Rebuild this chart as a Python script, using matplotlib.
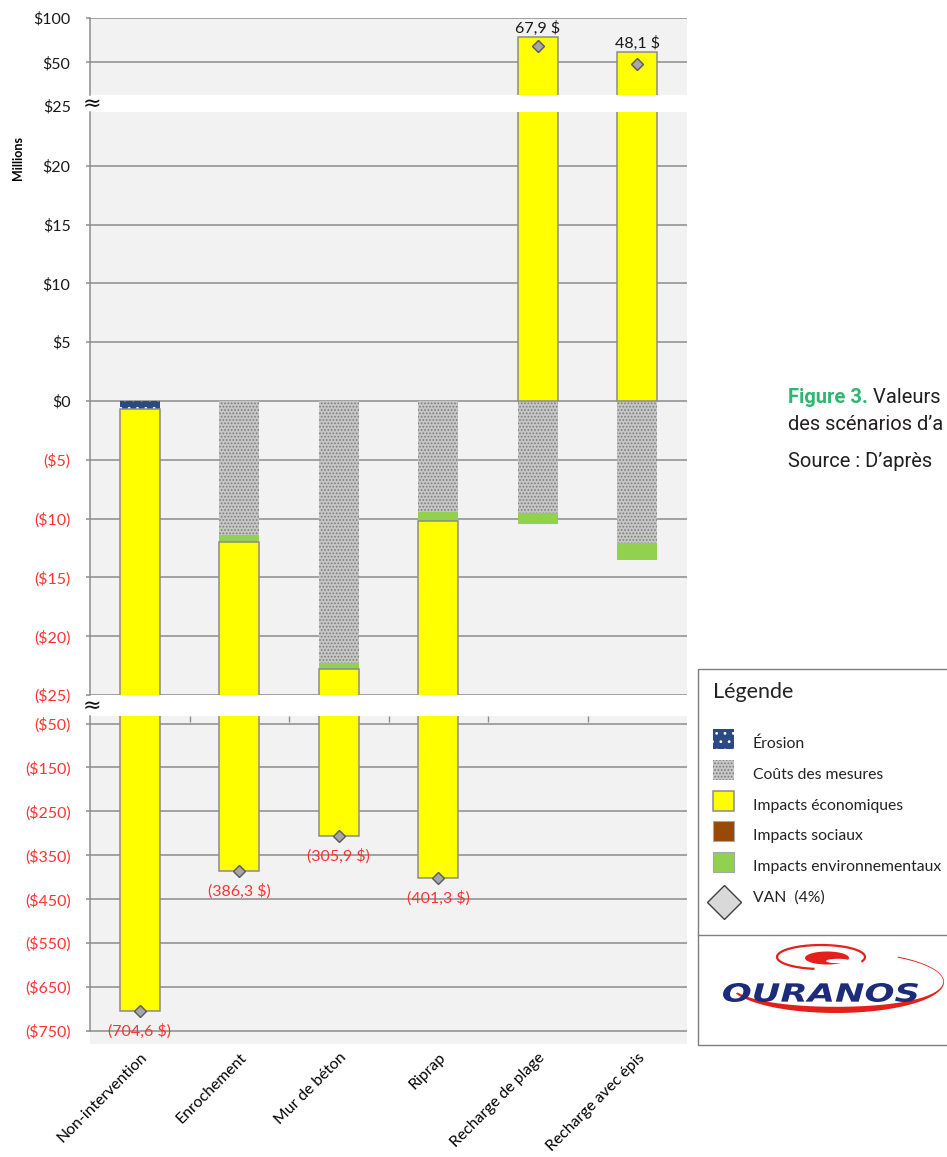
import matplotlib
matplotlib.use('Agg')
import matplotlib.pyplot as plt
import numpy as np
from matplotlib.patches import Rectangle, PathPatch, Polygon
from matplotlib.textpath import TextPath
from matplotlib.font_manager import FontProperties
from matplotlib.transforms import Affine2D, blended_transform_factory, offset_copy

plt.rcParams['font.family'] = ['Lato', 'DejaVu Sans']
plt.rcParams['hatch.linewidth'] = 0.8

# data (millions $)
categories = ['Non-intervention', 'Enrochement', 'Mur de béton', 'Riprap',
              'Recharge de plage', 'Recharge avec épis']
erosion = [-0.7, 0, 0, 0, 0, 0]
couts = [0, -11.4, -22.3, -9.4, -9.5, -12.1]
sociaux = [0, 0, 0, 0, 0, 0]
env = [0, -0.6, -0.5, -0.8, -1.0, -1.4]
eco = [-703.9, -374.3, -283.1, -391.1, 78.4, 61.6]
van = [-704.6, -386.3, -305.9, -401.3, 67.9, 48.1]
van_labels = ['(704,6 $)', '(386,3 $)', '(305,9 $)', '(401,3 $)', '67,9 $', '48,1 $']

top_ticks = [50, 100]
mid_ticks = [20, 15, 10, 5, 0, -5, -10, -15, -20, -25]
bot_ticks = [-50, -150, -250, -350, -450, -550, -650, -750]

GRID = '#8c8c8c'
RED = '#ff3333'

styles = {
    'Érosion': dict(facecolor='#2a4a80', edgecolor='white', hatch='..', linewidth=0),
    'Coûts des mesures': dict(facecolor='#c6c6c6', edgecolor='#7c7c7c', hatch='.....', linewidth=0),
    'Impacts économiques': dict(facecolor='#ffff00', edgecolor=GRID, linewidth=1.1),
    'Impacts sociaux': dict(facecolor='#984807', linewidth=0),
    'Impacts environnementaux': dict(facecolor='#92d050', linewidth=0),
}
stack = [('Érosion', erosion), ('Coûts des mesures', couts), ('Impacts sociaux', sociaux),
         ('Impacts environnementaux', env), ('Impacts économiques', eco)]

W, H = 947, 1157
fig = plt.figure(figsize=(W / 100, H / 100), dpi=100)


def box(x0, y0, x1, y1):
    return [x0 / W, 1 - y1 / H, (x1 - x0) / W, (y1 - y0) / H]


ax_top = fig.add_axes(box(90, 18, 687, 95))
ax_mid = fig.add_axes(box(90, 112, 687, 695))
ax_bot = fig.add_axes(box(90, 716, 687, 1044))
axes = [ax_top, ax_mid, ax_bot]

x = np.arange(len(categories))
pos_total = np.zeros(len(categories))
for ax in axes:
    pos = np.zeros(len(categories))
    neg = np.zeros(len(categories))
    for name, vals in stack:
        v = np.array(vals, float)
        bottom = np.where(v >= 0, pos, neg)
        ax.bar(x, v, 0.4, bottom=bottom, zorder=2, **styles[name])
        pos += np.clip(v, 0, None)
        neg += np.clip(v, None, 0)
    pos_total = pos
    ax.plot(x, van, ls='none', marker='D', ms=6, mfc='#a6a6a6', mec='#595959', mew=1.0, zorder=4)

    ax.set_facecolor('#f2f2f2')
    ax.set_xlim(-0.5, 5.5)
    for s in ['top', 'right', 'bottom']:
        ax.spines[s].set_visible(False)
    ax.spines['left'].set_color(GRID)
    ax.spines['left'].set_linewidth(1.1)
    ax.yaxis.grid(True, color=GRID, lw=1.1)
    ax.set_axisbelow(True)
    ax.tick_params(axis='y', length=3, width=1.1, color=GRID, pad=11, labelsize=11.5)
    ax.tick_params(axis='x', which='both', bottom=False, labelbottom=False)


def money(v):
    return '${:g}'.format(v) if v >= 0 else '(${:g})'.format(-v)


for ax, ticks, lim in [(ax_top, top_ticks, (13.1, 100)), (ax_mid, mid_ticks, (-25, 24.58)),
                       (ax_bot, bot_ticks, (-780, -32.9))]:
    ax.set_ylim(*lim)
    ax.set_yticks(ticks, labels=[money(t) for t in ticks])
    for lbl, t in zip(ax.get_yticklabels(), ticks):
        lbl.set_color(RED if t < 0 else '#1a1a1a')

ax_bot.spines['left'].set_bounds(-750, -32.9)
ax_mid.text(-19 / 597, 25, money(25), transform=blended_transform_factory(ax_mid.transAxes, ax_mid.transData),
            ha='right', va='center', fontsize=11.5, color='#1a1a1a')

# category labels and boundary ticks
ax_bot.set_xticks(x, labels=categories, rotation=45, ha='right', va='center', rotation_mode='anchor')
ax_bot.set_xticks(np.arange(0.5, 5, 1), minor=True)
ax_bot.tick_params(axis='x', which='major', bottom=True, length=0, pad=8, labelbottom=True, labelsize=11.3)
ax_bot.tick_params(axis='x', which='minor', top=True, bottom=False, direction='in', length=4, width=1, color=GRID)
for lbl in ax_bot.get_xticklabels():
    lbl.set_transform(offset_copy(lbl.get_transform(), fig=fig, x=5, y=0, units='dots'))

# VAN labels
for i, v in enumerate(van):
    if v < -25:
        ax_bot.annotate(van_labels[i], (i, v), xytext=(0, -20), textcoords='offset pixels',
                        ha='center', va='center', color=RED, fontsize=11.5, annotation_clip=False)
    elif v > 24.58:
        ax_top.annotate(van_labels[i], (i, pos_total[i]), xytext=(0, 1), textcoords='offset pixels',
                        ha='center', va='bottom', color='#1a1a1a', fontsize=11.5, annotation_clip=False)

# overlay in pixel coordinates
ov = fig.add_axes([0, 0, 1, 1], zorder=10)
ov.set_xlim(0, W)
ov.set_ylim(H, 0)
ov.axis('off')
ov.patch.set_alpha(0)

for yb in [104, 706]:
    ov.text(92, yb, '≈', ha='center', va='center', fontsize=16, color='#111111', family='DejaVu Sans')
ov.text(18, 158, 'Millions', rotation=90, ha='center', va='center', fontsize=9, fontweight='bold')

# caption on the right
t1 = ov.text(788, 403, 'Figure 3.', fontsize=14.5, fontweight='bold', color='#2fb673',
             family='Roboto', va='baseline')
ov.annotate(' Valeurs', xy=(1, 0), xycoords=t1, va='bottom', ha='left', fontsize=14.5,
            color='#231f20', family='Roboto')
ov.text(788, 430, 'des scénarios d’a', fontsize=14.5, color='#231f20', family='Roboto', va='baseline')
ov.text(788, 467, 'Source : D’après', fontsize=14.5, color='#231f20', family='Roboto', va='baseline')

# legend box
ov.add_patch(Rectangle((698, 669), 300, 376, facecolor='white', edgecolor='#7f7f7f', lw=1, zorder=1))
ov.plot([698, 947], [935, 935], color='#7f7f7f', lw=1, zorder=2)
ov.text(713, 692, 'Légende', fontsize=15.5, va='center', ha='left', color='#222222', zorder=3)
legend_rows = [('Érosion', 739), ('Coûts des mesures', 770), ('Impacts économiques', 801),
               ('Impacts sociaux', 831), ('Impacts environnementaux', 862)]
for name, cy in legend_rows:
    st = dict(styles[name])
    if name in ('Impacts environnementaux', 'Impacts sociaux'):
        st.update(edgecolor='#a6a6a6', linewidth=0.8)
    ov.add_patch(Rectangle((713, cy - 10), 21, 20, zorder=3, **st))
    ov.text(753, cy + 5, name, fontsize=11.3, va='center', ha='left', color='#222222', zorder=3)
ov.plot(724, 902, marker='D', ms=17, mfc='#d9d9d9', mec='#404040', mew=1.0, zorder=3)
ov.text(753, 898, 'VAN  (4%)', fontsize=11.3, va='center', ha='left', color='#222222', zorder=3)

# Ouranos logo
logo_red = '#e3201b'
tt = np.radians(np.linspace(-55, 158, 200))
cx, cy, a, b = 836, 982, 108, 31
w = 1.2 + 5.0 * np.clip(np.sin(tt), 0, None)
xo, yo = cx + a * np.cos(tt), cy + b * np.sin(tt)
xi, yi = cx + (a - 0.6 * w) * np.cos(tt), cy + (b - w) * np.sin(tt)
ov.add_patch(Polygon(np.column_stack([np.r_[xo, xi[::-1]], np.r_[yo, yi[::-1]]]),
                     facecolor=logo_red, lw=0, zorder=3))
tr = np.radians(np.linspace(100, 380, 200))
ov.plot(821 + 44 * np.cos(tr), 957 + 12 * np.sin(tr), color=logo_red, lw=1.6, zorder=3)
te = np.radians(np.linspace(0, 360, 100))
ov.fill(827 + 22 * np.cos(te), 958 + 6.5 * np.sin(te), color=logo_red, lw=0, zorder=3)
ov.fill(838 + 12 * np.cos(te), 961 + 2.2 * np.sin(te), color='white', lw=0, zorder=3)
tp = TextPath((0, 0), 'OURANOS', size=1,
              prop=FontProperties(family='DejaVu Sans', weight='bold', style='italic'))
bb = tp.get_extents()
tf = Affine2D().translate(-bb.x0, -bb.y0).scale((918 - 723) / bb.width, -(1002 - 983) / bb.height).translate(723, 1002)
ov.add_patch(PathPatch(tf.transform_path(tp), facecolor='#1c2b7a', lw=0, zorder=4))

fig.savefig('out.png', dpi=100)
